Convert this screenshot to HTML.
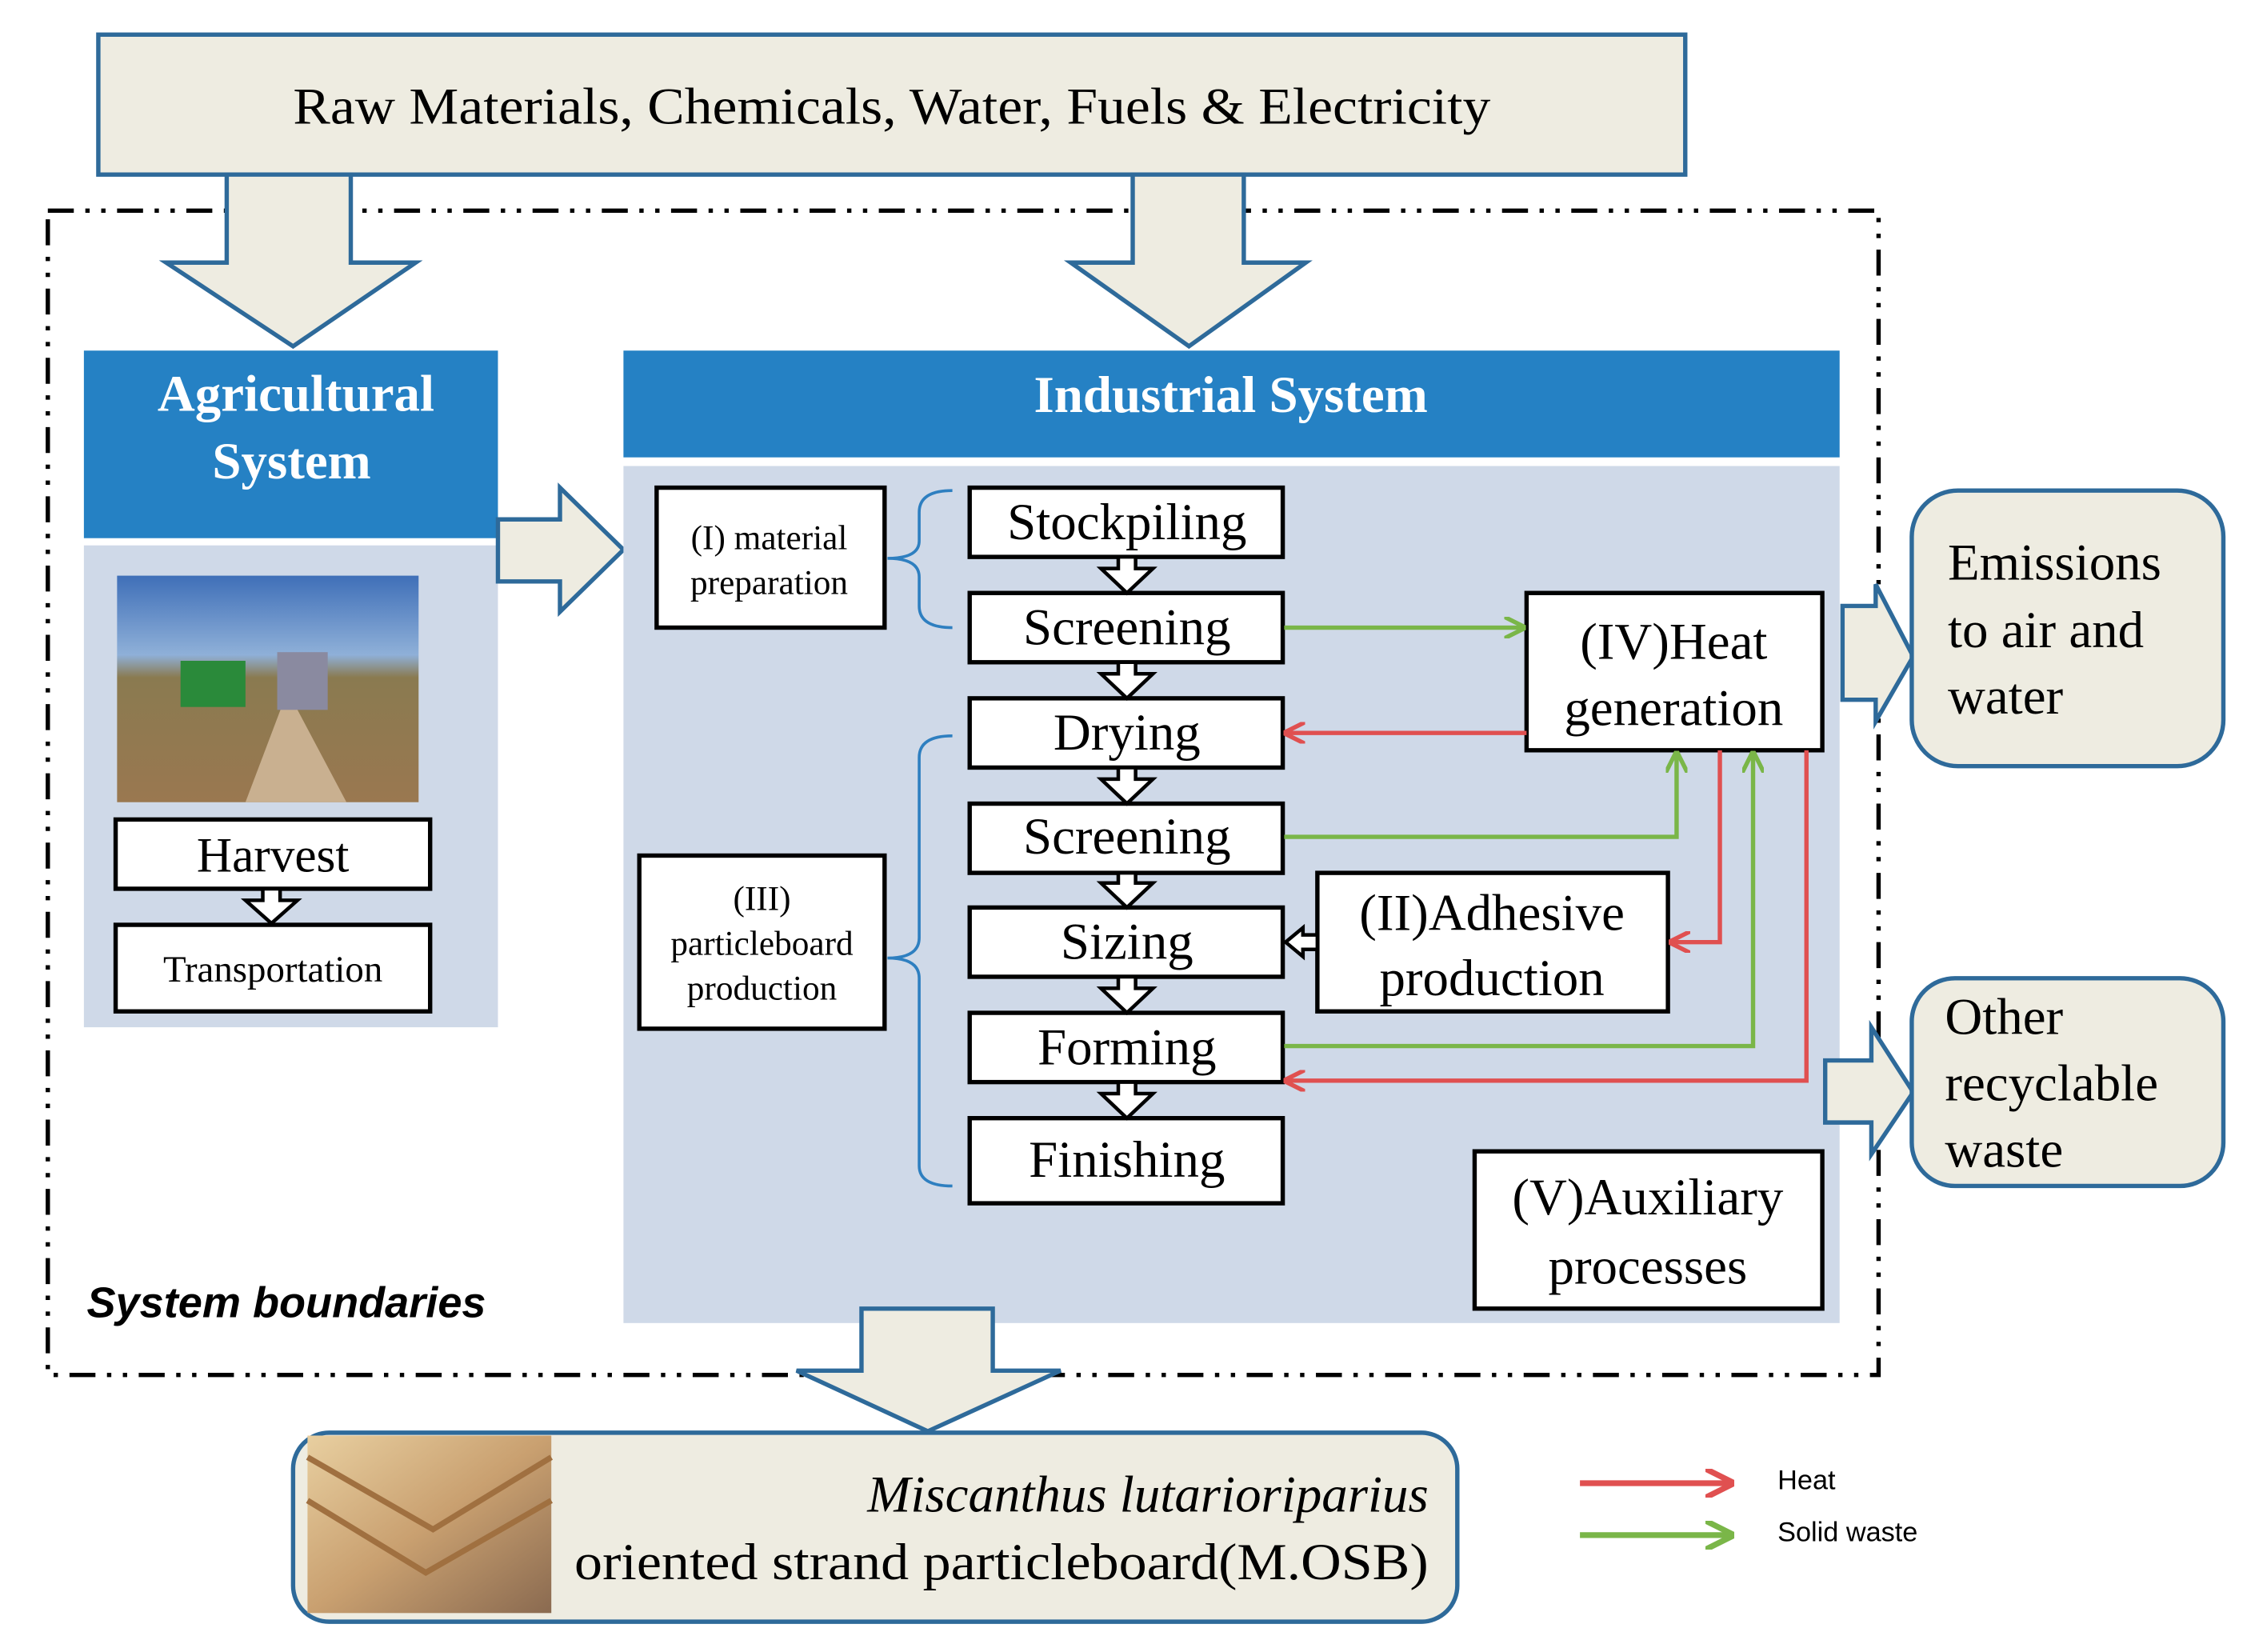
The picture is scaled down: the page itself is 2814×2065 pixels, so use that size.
<!DOCTYPE html>
<html><head><meta charset="utf-8"><style>html,body{margin:0;padding:0;background:#fff}svg{display:block}</style></head>
<body>
<svg width="2814" height="2065" viewBox="0 0 1560 1145" xmlns="http://www.w3.org/2000/svg" font-family="Liberation Serif, serif">
<defs>
<marker id="mr" viewBox="0 0 10 10" refX="9" refY="5" markerWidth="5" markerHeight="5" orient="auto"><path d="M0,0 L10,5 L0,10" fill="none" stroke="#e05050" stroke-width="2"/></marker>
<marker id="mg" viewBox="0 0 10 10" refX="9" refY="5" markerWidth="5" markerHeight="5" orient="auto"><path d="M0,0 L10,5 L0,10" fill="none" stroke="#7ab648" stroke-width="2"/></marker>
<linearGradient id="sky" x1="0" y1="0" x2="0" y2="1"><stop offset="0" stop-color="#3f6fb8"/><stop offset="0.35" stop-color="#8fb0d8"/><stop offset="0.45" stop-color="#8a7a50"/><stop offset="1" stop-color="#9a7850"/></linearGradient>
<linearGradient id="wood" x1="0" y1="0" x2="1" y2="1"><stop offset="0" stop-color="#e8cfa0"/><stop offset="0.5" stop-color="#c9a070"/><stop offset="1" stop-color="#8a6a50"/></linearGradient>
</defs>
<!-- top box -->
<rect x="68" y="24" width="1100" height="97" fill="#eeece1" stroke="#2e6a9a" stroke-width="3"/>
<text x="618" y="74" font-size="36" text-anchor="middle" dominant-baseline="central" textLength="830" lengthAdjust="spacingAndGlyphs">Raw Materials, Chemicals, Water, Fuels &amp; Electricity</text>
<!-- boundary -->
<rect x="33" y="146" width="1269" height="807" fill="none" stroke="#000" stroke-width="3" stroke-dasharray="18,8,3,8,3,8"/>
<!-- down arrows -->
<polygon points="157,121 243,121 243,182 288,182 203,240 115,182 157,182" fill="#eeece1" stroke="#2e6a9a" stroke-width="3"/>
<polygon points="785,121 862,121 862,182 905,182 824,240 742,182 785,182" fill="#eeece1" stroke="#2e6a9a" stroke-width="3"/>
<!-- agricultural -->
<rect x="58" y="243" width="287" height="130" fill="#2581c4"/>
<text x="205" y="273" font-size="36" font-weight="bold" fill="#fff" text-anchor="middle" dominant-baseline="central">Agricultural</text>
<text x="202" y="320" font-size="36" font-weight="bold" fill="#fff" text-anchor="middle" dominant-baseline="central">System</text>
<rect x="58" y="378" width="287" height="334" fill="#cfd9e8"/>
<rect x="81" y="399" width="209" height="157" fill="url(#sky)"/>
<polygon points="170,556 195,490 205,490 240,556" fill="#c9b090"/>
<rect x="125" y="458" width="45" height="32" fill="#2a8a3a"/>
<rect x="192" y="452" width="35" height="40" fill="#8a8aa0"/>
<rect x="80" y="568" width="218" height="48" fill="#fff" stroke="#000" stroke-width="3"/>
<text x="189" y="593" font-size="34" text-anchor="middle" dominant-baseline="central">Harvest</text>
<polygon points="182,616 194,616 194,624 206,624 188,640 170,624 182,624" fill="#fff" stroke="#000" stroke-width="2.5"/>
<rect x="80" y="641" width="218" height="60" fill="#fff" stroke="#000" stroke-width="3"/>
<text x="189" y="672" font-size="26" text-anchor="middle" dominant-baseline="central">Transportation</text>
<!-- agri -> industrial arrow -->
<polygon points="345,360 388,360 388,338 432,381 388,424 388,403 345,403" fill="#eeece1" stroke="#2e6a9a" stroke-width="3"/>
<!-- industrial -->
<rect x="432" y="243" width="843" height="74" fill="#2581c4"/>
<text x="853" y="274" font-size="36" font-weight="bold" fill="#fff" text-anchor="middle" dominant-baseline="central">Industrial System</text>
<rect x="432" y="323" width="843" height="594" fill="#cfd9e8"/>
<!-- (I) -->
<rect x="455" y="338" width="158" height="97" fill="#fff" stroke="#000" stroke-width="3"/>
<text x="533" y="373" font-size="24" text-anchor="middle" dominant-baseline="central">(I) material</text>
<text x="533" y="404" font-size="24" text-anchor="middle" dominant-baseline="central">preparation</text>
<path d="M660,340 Q637,340 637,355 L637,375 Q637,387 615,387 Q637,387 637,400 L637,420 Q637,435 660,435" fill="none" stroke="#2e7fc0" stroke-width="2"/>
<!-- (III) -->
<rect x="443" y="593" width="170" height="120" fill="#fff" stroke="#000" stroke-width="3"/>
<text x="528" y="623" font-size="24" text-anchor="middle" dominant-baseline="central">(III)</text>
<text x="528" y="654" font-size="24" text-anchor="middle" dominant-baseline="central">particleboard</text>
<text x="528" y="685" font-size="24" text-anchor="middle" dominant-baseline="central">production</text>
<path d="M660,510 Q637,510 637,525 L637,650 Q637,664 615,664 Q637,664 637,678 L637,808 Q637,822 660,822" fill="none" stroke="#2e7fc0" stroke-width="2"/>
<!-- process boxes -->
<g fill="#fff" stroke="#000" stroke-width="3">
<rect x="672" y="338" width="217" height="48"/>
<rect x="672" y="411" width="217" height="48"/>
<rect x="672" y="484" width="217" height="48"/>
<rect x="672" y="557" width="217" height="48"/>
<rect x="672" y="629" width="217" height="48"/>
<rect x="672" y="702" width="217" height="48"/>
<rect x="672" y="775" width="217" height="59"/>
</g>
<g fill="#fff" stroke="#000" stroke-width="2.5">
<polygon points="775,386 787,386 787,394 799,394 781,411 763,394 775,394"/>
<polygon points="775,459 787,459 787,467 799,467 781,484 763,467 775,467"/>
<polygon points="775,532 787,532 787,540 799,540 781,557 763,540 775,540"/>
<polygon points="775,605 787,605 787,612 799,612 781,629 763,612 775,612"/>
<polygon points="775,677 787,677 787,685 799,685 781,702 763,685 775,685"/>
<polygon points="775,750 787,750 787,758 799,758 781,775 763,758 775,758"/>
</g>
<g font-size="36" text-anchor="middle" dominant-baseline="central">
<text x="781" y="362">Stockpiling</text>
<text x="781" y="435">Screening</text>
<text x="781" y="508">Drying</text>
<text x="781" y="580">Screening</text>
<text x="781" y="653">Sizing</text>
<text x="781" y="726">Forming</text>
<text x="781" y="804">Finishing</text>
</g>
<!-- (IV) -->
<rect x="1058" y="411" width="205" height="109" fill="#fff" stroke="#000" stroke-width="3"/>
<text x="1160" y="445" font-size="36" text-anchor="middle" dominant-baseline="central">(IV)Heat</text>
<text x="1160" y="491" font-size="36" text-anchor="middle" dominant-baseline="central">generation</text>
<!-- (II) -->
<rect x="913" y="605" width="243" height="96" fill="#fff" stroke="#000" stroke-width="3"/>
<text x="1034" y="633" font-size="36" text-anchor="middle" dominant-baseline="central">(II)Adhesive</text>
<text x="1034" y="678" font-size="36" text-anchor="middle" dominant-baseline="central">production</text>
<polygon points="913,648 903,648 903,643 891,653 903,663 903,658 913,658" fill="#fff" stroke="#000" stroke-width="2.5"/>
<!-- (V) -->
<rect x="1022" y="798" width="241" height="109" fill="#fff" stroke="#000" stroke-width="3"/>
<text x="1142" y="830" font-size="36" text-anchor="middle" dominant-baseline="central">(V)Auxiliary</text>
<text x="1142" y="878" font-size="36" text-anchor="middle" dominant-baseline="central">processes</text>
<!-- flows -->
<g fill="none" stroke-width="3">
<path d="M890,435 L1056,435" stroke="#7ab648" marker-end="url(#mg)"/>
<path d="M1058,508 L891,508" stroke="#e05050" marker-end="url(#mr)"/>
<path d="M890,580 L1162,580 L1162,522" stroke="#7ab648" marker-end="url(#mg)"/>
<path d="M1192,520 L1192,653 L1158,653" stroke="#e05050" marker-end="url(#mr)"/>
<path d="M890,725 L1215,725 L1215,522" stroke="#7ab648" marker-end="url(#mg)"/>
<path d="M1252,520 L1252,749 L891,749" stroke="#e05050" marker-end="url(#mr)"/>
</g>
<!-- right arrows -->
<polygon points="1277,420 1300,420 1300,405 1326,455 1300,500 1300,485 1277,485" fill="#eeece1" stroke="#2e6a9a" stroke-width="3"/>
<polygon points="1265,735 1297,735 1297,712 1326,757 1297,800 1297,778 1265,778" fill="#eeece1" stroke="#2e6a9a" stroke-width="3"/>
<rect x="1325" y="340" width="216" height="191" rx="32" fill="#eeece1" stroke="#2e6a9a" stroke-width="3"/>
<g font-size="36" dominant-baseline="central">
<text x="1350" y="390">Emissions</text>
<text x="1350" y="437">to air and</text>
<text x="1350" y="483">water</text>
</g>
<rect x="1325" y="678" width="216" height="144" rx="30" fill="#eeece1" stroke="#2e6a9a" stroke-width="3"/>
<g font-size="36" dominant-baseline="central">
<text x="1348" y="705">Other</text>
<text x="1348" y="751">recyclable</text>
<text x="1348" y="797">waste</text>
</g>
<text x="60" y="903" font-family="Liberation Sans, sans-serif" font-size="30" font-style="italic" font-weight="bold" dominant-baseline="central">System boundaries</text>
<!-- bottom -->
<polygon points="597,907 688,907 688,950 735,950 643,992 552,950 597,950" fill="#eeece1" stroke="#2e6a9a" stroke-width="3"/>
<rect x="203" y="993" width="807" height="131" rx="25" fill="#eeece1" stroke="#2e6a9a" stroke-width="3"/>
<rect x="213" y="995" width="169" height="123" fill="url(#wood)"/>
<path d="M213,1010 L300,1060 L382,1010 M213,1040 L295,1090 L382,1040" stroke="#a07040" stroke-width="4" fill="none"/>
<text x="990" y="1036" font-size="36" font-style="italic" text-anchor="end" dominant-baseline="central">Miscanthus lutarioriparius</text>
<text x="990" y="1083" font-size="36" text-anchor="end" dominant-baseline="central" textLength="592" lengthAdjust="spacingAndGlyphs">oriented strand particleboard(M.OSB)</text>
<!-- legend -->
<path d="M1095,1028 L1200,1028" stroke="#e05050" stroke-width="4" marker-end="url(#mr)"/>
<path d="M1095,1064 L1200,1064" stroke="#7ab648" stroke-width="4" marker-end="url(#mg)"/>
<text x="1232" y="1026" font-family="Liberation Sans, sans-serif" font-size="19" dominant-baseline="central">Heat</text>
<text x="1232" y="1062" font-family="Liberation Sans, sans-serif" font-size="19" dominant-baseline="central">Solid waste</text>
</svg>
</body></html>
